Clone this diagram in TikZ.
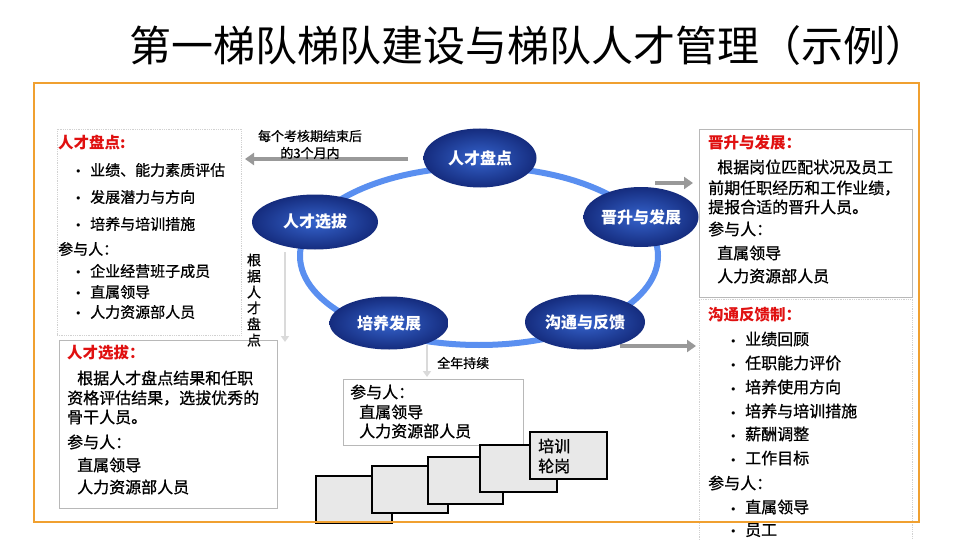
\documentclass[tikz,border=0pt]{standalone}
\usepackage{fontspec}
\setmainfont{Noto Sans CJK SC}
\newfontfamily\bodyfont{Noto Sans CJK SC}[FakeBold=0.8]
\newfontfamily\dejavu{DejaVu Sans}
\usetikzlibrary{shapes.geometric,arrows.meta}
\definecolor{frameorange}{HTML}{F0A030}
\definecolor{ringblue}{HTML}{5A8FF0}
\definecolor{navyout}{HTML}{152C7E}
\definecolor{navyin}{HTML}{3563CC}
\definecolor{titlered}{HTML}{E01010}
\definecolor{arrowgray}{HTML}{999999}
\definecolor{lightarrow}{HTML}{DADADA}
\definecolor{stairfill}{HTML}{E8E8E8}
\tikzset{
  txt/.style={anchor=west, inner sep=0pt, font=\bodyfont\fontsize{16}{18}\selectfont},
  txts/.style={anchor=west, inner sep=0pt, font=\bodyfont\fontsize{15}{18}\selectfont},
  rtxt/.style={anchor=west, inner sep=0pt, text=titlered, font=\fontsize{15.5}{18}\selectfont\bfseries},
  smalltxt/.style={inner sep=0pt, font=\bodyfont\fontsize{13}{15}\selectfont},
  solidbox/.style={draw=black!28, line width=0.8pt, inner sep=0pt},
  dotbox/.style={draw=black!18, densely dotted, line width=0.8pt, inner sep=0pt},
  stage/.style={ellipse, inner sep=0pt, shading=radial, inner color=navyin, outer color=navyout,
    text=white, font=\fontsize{16}{18}\selectfont\bfseries},
  stair/.style={draw=black, fill=stairfill, line width=1.3pt, inner sep=0pt},
  grayarrow/.style={draw=arrowgray, line width=4pt, -{Triangle[length=9pt,width=12pt]}},
  lightarr/.style={draw=lightarrow, line width=2.5pt, -{Triangle[length=6pt,width=8pt]}},
}
\newcommand{\bul}[1]{\makebox[15pt][l]{{\dejavu\fontsize{11}{12}\selectfont •}}#1}
\begin{document}
\begin{tikzpicture}[x=1pt,y=-1pt]
\useasboundingbox (0,0) rectangle (960,540);
\fill[white] (0,0) rectangle (960,540);

% title
\node[inner sep=0pt, font=\fontsize{42}{46}\selectfont] (title) at (528,46) {第一梯队梯队建设与梯队人才管理（示例）};

% left top box
\node[dotbox, minimum width=184pt, minimum height=206pt] (pdbox) at (149,232) {};
\node[rtxt] (pdt) at (58,143) {人才盘点:};
\node[txts] (pd1) at (75,170) {\bul{业绩、能力素质评估}};
\node[txts] (pd2) at (75,197) {\bul{发展潜力与方向}};
\node[txts] (pd3) at (75,224) {\bul{培养与培训措施}};
\node[txts] (pdp) at (58,249) {参与人：};
\node[txts] (pd4) at (75,271) {\bul{企业经营班子成员}};
\node[txts] (pd5) at (75,292) {\bul{直属领导}};
\node[txts] (pd6) at (75,312) {\bul{人力资源部人员}};

% left bottom box
\node[solidbox, minimum width=218pt, minimum height=168pt] (xbbox) at (168,424) {};
\node[rtxt] (xbt) at (67,353) {人才选拔：};
\node[txt] (xb1) at (77,378) {根据人才盘点结果和任职};
\node[txt] (xb2) at (67,398) {资格评估结果，选拔优秀的};
\node[txt] (xb3) at (67,417) {骨干人员。};
\node[txt] (xbp) at (67,442) {参与人：};
\node[txt] (xb4) at (77,465) {直属领导};
\node[txt] (xb5) at (77,487) {人力资源部人员};

% ring
\draw[ringblue, line width=6pt] (479,256) ellipse [x radius=179pt, y radius=89pt];

% connectors
\coordinate (a1s) at (408,159);
\coordinate (a1e) at (245,159);
\draw[grayarrow] (a1s) -- (a1e);
\node[smalltxt] (a1l1) at (310,136) {每个考核期结束后};
\node[smalltxt] (a1l2) at (310,153) {的3个月内};

\coordinate (a2s) at (655,183);
\coordinate (a2e) at (693,183);
\draw[grayarrow] (a2s) -- (a2e);
\coordinate (a3s) at (620,346);
\coordinate (a3e) at (696,346);
\draw[grayarrow] (a3s) -- (a3e);

\coordinate (v1s) at (285,252);
\coordinate (v1e) at (285,342);
\draw[lightarr] (v1s) -- (v1e);
\node[inner sep=0pt, align=center, font=\bodyfont\fontsize{14}{16}\selectfont] (vtxt) at (254,300) {根\\据\\人\\才\\盘\\点};

\coordinate (v2s) at (427,345);
\coordinate (v2e) at (427,377);
\draw[lightarr] (v2s) -- (v2e);
\node[smalltxt, anchor=west] (qn) at (437,363) {全年持续};

% stages
\node[stage, minimum width=113pt, minimum height=59pt] (s1) at (480,158) {人才盘点};
\node[stage, minimum width=126pt, minimum height=55pt] (s2) at (315,222) {人才选拔};
\node[stage, minimum width=115pt, minimum height=60pt] (s3) at (641,217) {晋升与发展};
\node[stage, minimum width=119pt, minimum height=53pt] (s4) at (389,323) {培养发展};
\node[stage, minimum width=120pt, minimum height=55pt] (s5) at (585,322) {沟通与反馈};

% center box
\node[solidbox, minimum width=180pt, minimum height=66pt] (cbox) at (433,412) {};
\node[txt] (cp) at (350,392) {参与人：};
\node[txt] (c1) at (359,412) {直属领导};
\node[txt] (c2) at (359,431) {人力资源部人员};

% stairs
\node[stair, minimum width=76pt, minimum height=47pt] (st1) at (354,499.5) {};
\node[stair, minimum width=76pt, minimum height=47pt] (st2) at (410,489.5) {};
\node[stair, minimum width=75pt, minimum height=47pt] (st3) at (465.5,480.5) {};
\node[stair, minimum width=77pt, minimum height=47pt] (st4) at (518.5,468.5) {};
\node[stair, minimum width=77pt, minimum height=47pt] (st5) at (568.5,455.5) {};
\node[txt] (stt1) at (538,446) {培训};
\node[txt] (stt2) at (538,466) {轮岗};

% right top box
\node[solidbox, minimum width=213pt, minimum height=168pt] (jsbox) at (805.5,213) {};
\node[rtxt] (jst) at (708,143) {晋升与发展：};
\node[txt] (js1) at (717,167) {根据岗位匹配状况及员工};
\node[txt] (js2) at (708,188) {前期任职经历和工作业绩，};
\node[txt] (js3) at (708,207) {提报合适的晋升人员。};
\node[txt] (jsp) at (708,229) {参与人：};
\node[txt] (js4) at (717,253) {直属领导};
\node[txt] (js5) at (717,276) {人力资源部人员};

% right bottom box
\node[dotbox, minimum width=213pt, minimum height=250pt] (gtbox) at (805.5,424) {};
\node[rtxt] (gtt) at (708,315) {沟通反馈制：};
\node[txt] (gt1) at (730,339) {\bul{业绩回顾}};
\node[txt] (gt2) at (730,363) {\bul{任职能力评价}};
\node[txt] (gt3) at (730,387) {\bul{培养使用方向}};
\node[txt] (gt4) at (730,411) {\bul{培养与培训措施}};
\node[txt] (gt5) at (730,434) {\bul{薪酬调整}};
\node[txt] (gt6) at (730,458) {\bul{工作目标}};
\node[txt] (gtp) at (708,483) {参与人：};
\node[txt] (gt7) at (730,507) {\bul{直属领导}};
\node[txt] (gt8) at (730,530) {\bul{员工}};

% orange frame
\draw[frameorange, line width=1.2pt] (34,83) rectangle (919,522);
\end{tikzpicture}
\end{document}
